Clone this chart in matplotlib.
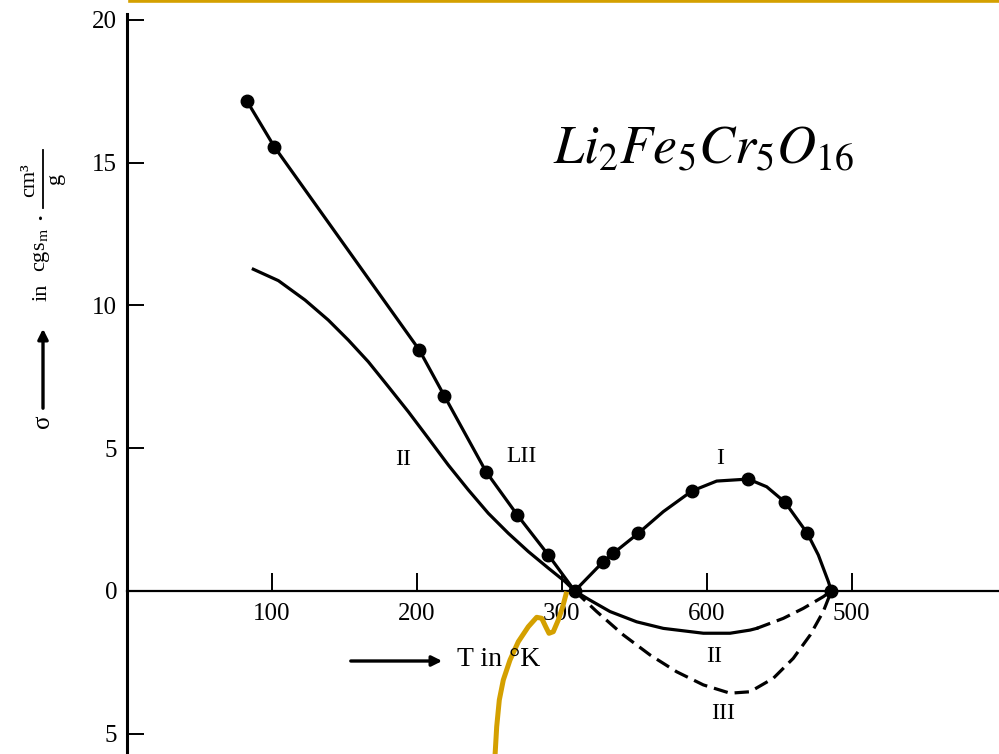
import matplotlib
matplotlib.use("Agg")
import matplotlib.pyplot as plt
from matplotlib.lines import Line2D
from matplotlib.patches import FancyArrowPatch

plt.rcParams['font.family'] = ['Liberation Serif', 'DejaVu Serif']
plt.rcParams['mathtext.fontset'] = 'stix'

# ---- magnetisation sigma (cgs units) vs temperature T (K) ----
# curve I / LII : measured points (filled dots)
T_meas = [82.8, 101.8, 201.8, 219.0, 247.8, 269.4, 290.8, 309.0,
          328.7, 335.6, 352.8, 389.7, 428.7, 454.0, 469.4, 486.0]
sig_meas = [17.17, 15.56, 8.44, 6.84, 4.18, 2.66, 1.26, 0.0,
            1.03, 1.32, 2.02, 3.50, 3.92, 3.11, 2.02, 0.0]

# curve I / LII : line drawn through the points
T_I = [82.8, 101.8, 201.8, 219.0, 247.8, 269.4, 290.8, 309.0,
       328.7, 335.6, 352.8, 370.1, 389.7, 406.9, 428.7, 441.4, 454.0,
       469.4, 477.0, 483.9, 486.0]
sig_I = [17.17, 15.56, 8.44, 6.84, 4.18, 2.66, 1.26, 0.0,
         1.03, 1.32, 2.02, 2.78, 3.50, 3.85, 3.92, 3.65, 3.11,
         2.02, 1.26, 0.33, 0.0]

# curve II : low-temperature branch (solid)
T_II_low = [87.3, 104.6, 123.0, 139.0, 152.8, 166.6, 180.4, 194.2, 208.0,
            221.8, 235.6, 249.4, 263.2, 277.0, 290.8, 302.3, 309.0]
sig_II_low = [11.27, 10.87, 10.19, 9.49, 8.79, 8.03, 7.16, 6.28, 5.35,
              4.41, 3.54, 2.72, 2.02, 1.38, 0.80, 0.33, 0.0]

# curve II : negative branch, solid part then dashed part
T_II_neg = [309.0, 319.5, 333.3, 351.7, 370.1, 397.7, 416.1, 429.9, 434.5]
sig_II_neg = [0.0, -0.32, -0.72, -1.08, -1.31, -1.48, -1.48, -1.37, -1.31]
T_II_dash = [434.5, 452.8, 466.6, 480.4, 486.0]
sig_II_dash = [-1.31, -0.96, -0.61, -0.20, 0.0]

# curve III : dashed
T_III = [309.0, 324.1, 342.5, 360.9, 379.3, 397.7, 416.1, 429.9, 445.9,
         459.7, 471.4, 480.4, 486.0]
sig_III = [0.0, -0.72, -1.54, -2.24, -2.83, -3.29, -3.58, -3.53, -3.06,
           -2.36, -1.54, -0.72, 0.0]

x_ticks = [100, 200, 300, 400, 500]
x_tick_labels = ['100', '200', '300', '600', '500']
y_ticks = [-5, 0, 5, 10, 15, 20]
y_tick_labels = ['5', '0', '5', '10', '15', '20']

W, H = 999, 754
fig = plt.figure(figsize=(W / 100, H / 100), dpi=100)
ax = fig.add_axes([0, 0, 1, 1])
ax.set_xlim(-87.4, 601.6)
ax.set_ylim(-5.71, 20.70)
ax.patch.set_alpha(0)

for s in ('top', 'right'):
    ax.spines[s].set_visible(False)
ax.spines['left'].set_position(('data', 0))
ax.spines['bottom'].set_position(('data', 0))
ax.spines['left'].set_bounds(-6.0, 20.2)
ax.spines['bottom'].set_bounds(0, 620)
ax.spines['left'].set_linewidth(2.2)
ax.spines['bottom'].set_linewidth(1.6)

ax.set_xticks(x_ticks)
ax.set_xticklabels(x_tick_labels)
ax.set_yticks(y_ticks)
ax.set_yticklabels(y_tick_labels)
ax.tick_params(axis='x', direction='in', length=13, width=1.4, pad=9,
               labelsize=18)
ax.tick_params(axis='y', direction='in', length=12, width=1.4, pad=7,
               labelsize=18)

lw = 2.3
dash = (4.5, 2.2)
ax.plot(T_I, sig_I, color='black', lw=lw, solid_joinstyle='round')
ax.plot(T_meas, sig_meas, 'o', color='black', ms=9)
ax.plot(T_II_low, sig_II_low, color='black', lw=lw, solid_joinstyle='round')
ax.plot(T_II_neg, sig_II_neg, color='black', lw=lw, solid_joinstyle='round')
ax.plot(T_II_dash, sig_II_dash, color='black', lw=lw, dashes=dash)
ax.plot(T_III, sig_III, color='black', lw=lw, dashes=dash)

# curve labels
lab_kw = dict(fontsize=17, ha='center', va='center', color='black')
ax.text(190.6, 4.59, 'II', **lab_kw)
ax.text(272.4, 4.70, 'LII', **lab_kw)
ax.text(409.2, 4.65, 'I', **lab_kw)
ax.text(405.2, -2.28, 'II', **lab_kw)
ax.text(411.4, -4.28, 'III', **lab_kw)

# compound formula
fig.text(553 / W, 1 - 163 / H, r'$Li_2Fe_5Cr_5O_{16}$', fontsize=39,
         ha='left', va='baseline')


def fx(px):
    return px / W


def fy(py):
    return 1 - py / H


# vertical axis caption: sigma -> in cgs_m . cm^3/g
rot = dict(rotation=90, ha='center', va='center')
fig.text(fx(43), fy(421), 'σ', fontsize=18, **rot)
fig.patches.append(FancyArrowPatch((fx(43), fy(411)), (fx(43), fy(326)),
                                   transform=fig.transFigure, arrowstyle='-|>',
                                   mutation_scale=15, lw=2.4, color='black'))
fig.text(fx(42), fy(292), 'in', fontsize=16, **rot)
fig.text(fx(42), fy(250), r'cgs$_\mathrm{m}$', fontsize=16, **rot)
fig.text(fx(41), fy(216), '·', fontsize=16, fontweight='bold', **rot)
fig.lines.append(Line2D([fx(43), fx(43)], [fy(208), fy(150)],
                        transform=fig.transFigure, color='black', lw=1.3))
fig.text(fx(30), fy(180), 'cm³', fontsize=16, **rot)
fig.text(fx(56), fy(178), 'g', fontsize=16, **rot)

# horizontal axis caption
fig.patches.append(FancyArrowPatch((fx(348), fy(661)), (fx(445), fy(661)),
                                   transform=fig.transFigure, arrowstyle='-|>',
                                   mutation_scale=15, lw=2.4, color='black'))
fig.text(fx(457), fy(660), 'T in °K', fontsize=20, ha='left', va='center')

# golden slide decorations
gold = '#D4A000'
fig.lines.append(Line2D([fx(130), 1.0], [fy(1.2), fy(1.2)],
                        transform=fig.transFigure, color=gold, lw=2.6))
squiggle_px = [(495, 756), (496.7, 726.7), (499.3, 700), (503.3, 680), (510, 660),
               (518.3, 641.7), (528.3, 626.7), (536.7, 617.3), (541.7, 618.3),
               (545.7, 626.7), (549, 633.3), (553.3, 631.7), (558.3, 620),
               (562.7, 606.7), (566.7, 591.7)]
fig.lines.append(Line2D([fx(p[0]) for p in squiggle_px],
                        [fy(p[1]) for p in squiggle_px],
                        transform=fig.transFigure, color=gold, lw=3.6,
                        solid_joinstyle='round', solid_capstyle='butt'))

fig.savefig('out.png', dpi=100)
